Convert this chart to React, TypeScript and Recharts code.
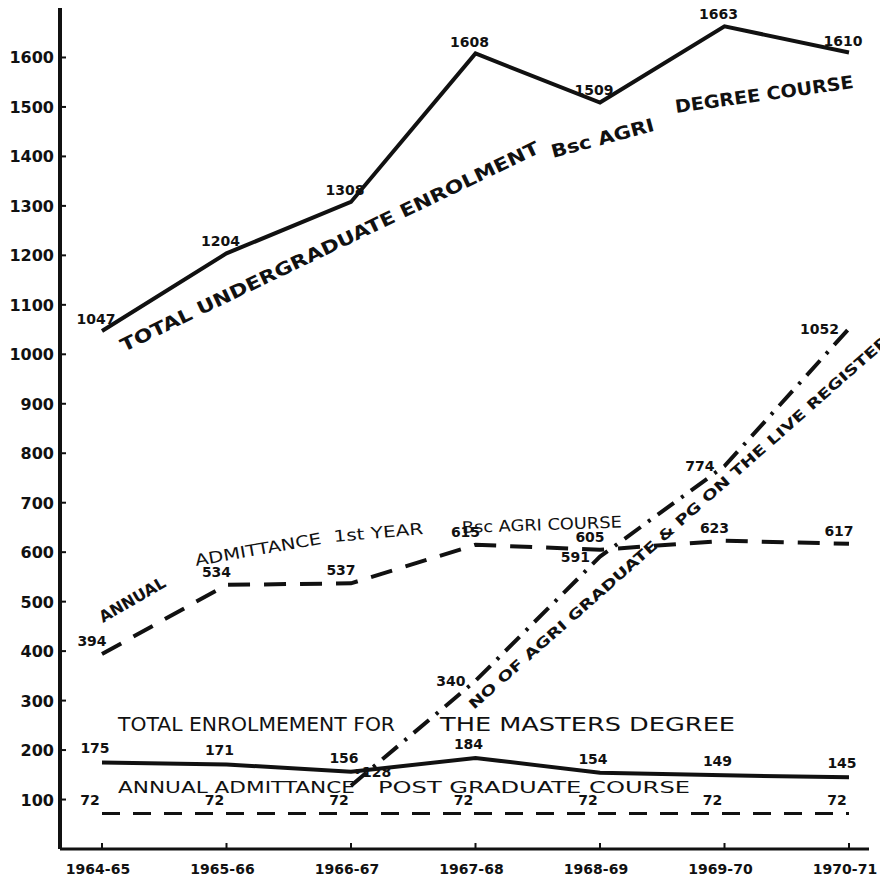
import React from "react";
import { LineChart, Line, XAxis, YAxis, LabelList } from "recharts";

// values as lettered on the original graph
const years = ["1964-65", "1965-66", "1966-67", "1967-68", "1968-69", "1969-70", "1970-71"];
const ugEnrolment = [1047, 1204, 1308, 1608, 1509, 1663, 1610];
const firstYearAdmit = [394, 534, 537, 615, 605, 623, 617];
const liveRegister = [null, null, 128, 340, 591, 774, 1052];
const mastersEnrolment = [175, 171, 156, 184, 154, 149, 145];
const pgAdmit = [72, 72, 72, 72, 72, 72, 72];
const yTicks = [100, 200, 300, 400, 500, 600, 700, 800, 900, 1000, 1100, 1200, 1300, 1400, 1500, 1600];

const data = years.map((year, i) => ({
  year,
  ug: ugEnrolment[i],
  adm: firstYearAdmit[i],
  reg: liveRegister[i],
  ms: mastersEnrolment[i],
  pg: pgAdmit[i],
}));

const FONT = "'DejaVu Sans', sans-serif";
const INK = "#111";

// hand lettered captions that run along the lines
const notes = [
  { text: "TOTAL UNDERGRADUATE ENROLMENT", x: 124, y: 352, angle: -25.6, len: 462, size: 18, bold: true },
  { text: "Bsc AGRI", x: 553, y: 158, angle: -15, len: 106, size: 18, bold: true },
  { text: "DEGREE COURSE", x: 676, y: 113, angle: -8, len: 180, size: 18, bold: true },
  { text: "ANNUAL", x: 103, y: 623, angle: -30, len: 74, size: 16, bold: true },
  { text: "ADMITTANCE", x: 196, y: 566, angle: -10, len: 128, size: 16, bold: false },
  { text: "1st YEAR", x: 334, y: 542, angle: -5, len: 90, size: 16, bold: false },
  { text: "Bsc AGRI COURSE", x: 462, y: 533, angle: -2, len: 160, size: 16, bold: false },
  { text: "NO OF AGRI GRADUATE & PG ON THE LIVE REGISTER", x: 474, y: 710, angle: -41.5, len: 555, size: 14, bold: true },
  { text: "TOTAL ENROLMEMENT FOR", x: 118, y: 731, angle: 0, len: 277, size: 20, bold: false },
  { text: "THE  MASTERS  DEGREE", x: 440, y: 731, angle: 0, len: 295, size: 20, bold: false },
  { text: "ANNUAL  ADMITTANCE", x: 118, y: 793, angle: 0, len: 237, size: 16, bold: false },
  { text: "POST     GRADUATE    COURSE", x: 378, y: 793, angle: 0, len: 312, size: 16, bold: false },
];

const makeLabel = (dx: number, dy: number, anchor = "middle") => (props: any) => {
  const { x, y, value } = props;
  if (value == null || x == null) return null;
  return (
    <text x={x + dx} y={y + dy} textAnchor={anchor} fontFamily={FONT} fontWeight="bold" fontSize={14} fill={INK}>
      {value}
    </text>
  );
};

const regLabel = (props: any) => {
  const { x, y, value, index } = props;
  if (value == null || x == null) return null;
  const first = index === 2;
  return (
    <text
      x={first ? x + 2 : x - 10}
      y={first ? y - 9 : y + 5}
      textAnchor={first ? "start" : "end"}
      fontFamily={FONT}
      fontWeight="bold"
      fontSize={14}
      fill={INK}
    >
      {first ? "•" + value : value}
    </text>
  );
};

const YTick = (props: any) => {
  const { x, y, payload } = props;
  return (
    <g>
      <line x1={x + 5} x2={x + 11} y1={y} y2={y} stroke={INK} strokeWidth={2} />
      <text x={x - 1} y={y + 6} textAnchor="end" fontFamily={FONT} fontWeight="bold" fontSize={16} fill={INK}>
        {payload.value}
      </text>
    </g>
  );
};

const XTick = (props: any) => {
  const { x, y, payload } = props;
  return (
    <g>
      <line x1={x} x2={x} y1={y} y2={y - 6} stroke={INK} strokeWidth={2} />
      <text x={x - 4} y={y + 25} textAnchor="middle" fontFamily={FONT} fontWeight="bold" fontSize={14} fill={INK}>
        {payload.value}
      </text>
    </g>
  );
};

export default function App() {
  return (
    <div style={{ position: "absolute", left: 0, top: 0, width: 880, height: 882, background: "#fff" }}>
      <LineChart width={880} height={882} data={data} margin={{ top: 8, right: 11, left: 0, bottom: 0 }}>
        <XAxis
          dataKey="year"
          padding={{ left: 42, right: 20 }}
          height={33}
          axisLine={{ stroke: INK, strokeWidth: 3 }}
          tickLine={false}
          tickSize={0}
          tickMargin={0}
          tick={<XTick />}
          interval={0}
        />
        <YAxis
          domain={[0, 1700]}
          ticks={yTicks}
          width={60}
          axisLine={{ stroke: INK, strokeWidth: 4 }}
          tickLine={false}
          tickSize={0}
          tickMargin={5}
          tick={<YTick />}
          interval={0}
        />
        <Line dataKey="ug" stroke={INK} strokeWidth={4} dot={false} type="linear" isAnimationActive={false}>
          <LabelList dataKey="ug" content={makeLabel(-6, -7)} />
        </Line>
        <Line
          dataKey="adm"
          stroke={INK}
          strokeWidth={4}
          strokeDasharray="22 14"
          dot={false}
          type="linear"
          isAnimationActive={false}
        >
          <LabelList dataKey="adm" content={makeLabel(-10, -8)} />
        </Line>
        <Line
          dataKey="reg"
          stroke={INK}
          strokeWidth={4}
          strokeDasharray="20 9 3 9"
          dot={false}
          type="linear"
          connectNulls={false}
          isAnimationActive={false}
        >
          <LabelList dataKey="reg" content={regLabel} />
        </Line>
        <Line dataKey="ms" stroke={INK} strokeWidth={4} dot={false} type="linear" isAnimationActive={false}>
          <LabelList dataKey="ms" content={makeLabel(-7, -9)} />
        </Line>
        <Line
          dataKey="pg"
          stroke={INK}
          strokeWidth={3}
          strokeDasharray="18 13"
          dot={false}
          type="linear"
          isAnimationActive={false}
        >
          <LabelList dataKey="pg" content={makeLabel(-12, -8)} />
        </Line>
      </LineChart>
      <svg
        width={880}
        height={882}
        style={{ position: "absolute", left: 0, top: 0, pointerEvents: "none" }}
      >
        {notes.map((n) => (
          <text
            key={n.text}
            x={n.x}
            y={n.y}
            transform={`rotate(${n.angle} ${n.x} ${n.y})`}
            textLength={n.len}
            lengthAdjust="spacingAndGlyphs"
            fontFamily={FONT}
            fontWeight={n.bold ? "bold" : "normal"}
            fontSize={n.size}
            fill={INK}
          >
            {n.text}
          </text>
        ))}
      </svg>
    </div>
  );
}
